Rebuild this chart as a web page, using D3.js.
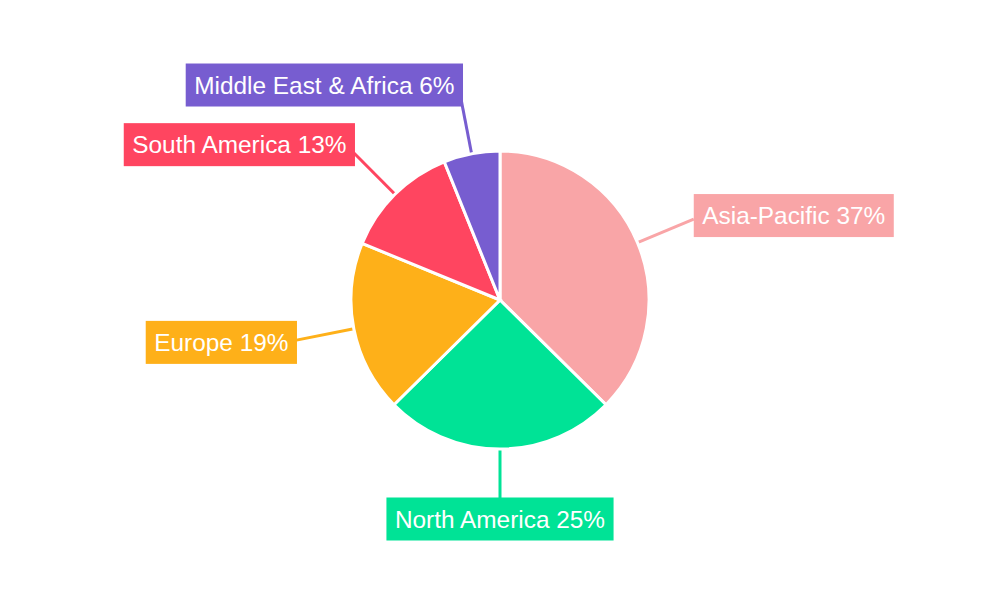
<!DOCTYPE html>
<html>
<head>
  <meta charset="utf-8">
  <script src="https://d3js.org/d3.v7.min.js"></script>
  <style>
    body { margin: 0; background: #fff; }
    text { font-family: "Liberation Sans", Arial, sans-serif; }
  </style>
</head>
<body>
<div id="vis"></div>
<script>
  // data (share of total, %)
  var regions = ["Asia-Pacific", "North America", "Europe", "South America", "Middle East & Africa"];
  var shares = [37.4, 25.2, 18.6, 12.7, 6.1];
  var colors = ["#F9A5A7", "#00E396", "#FEB019", "#FF4560", "#775DD0"];

  var width = 1000, height = 600;
  var cx = 500, cy = 300;
  var radius = 149, labelRadius = 210;

  var data = regions.map(function(r, i) { return { region: r, value: shares[i], color: colors[i] }; });
  var total = d3.sum(shares);

  var svg = d3.select("#vis").append("svg")
    .attr("width", width)
    .attr("height", height)
    .append("g")
    .attr("transform", "translate(" + cx + "," + cy + ")");

  var pie = d3.pie().sort(null).value(function(d) { return d.value; });
  var arcs = pie(data);
  var arc = d3.arc().innerRadius(0).outerRadius(radius);

  function midAngle(d) { return (d.startAngle + d.endAngle) / 2; }
  function pt(a, r) { return [Math.sin(a) * r, -Math.cos(a) * r]; }

  // leader lines
  svg.append("g").selectAll("line")
    .data(arcs)
    .enter()
    .append("line")
      .attr("x1", function(d) { return pt(midAngle(d), radius)[0]; })
      .attr("y1", function(d) { return pt(midAngle(d), radius)[1]; })
      .attr("x2", function(d) { return pt(midAngle(d), labelRadius)[0]; })
      .attr("y2", function(d) { return pt(midAngle(d), labelRadius)[1]; })
      .attr("stroke", function(d) { return d.data.color; })
      .attr("stroke-width", 3);

  // slices
  svg.append("g").selectAll("path")
    .data(arcs)
    .enter()
    .append("path")
      .attr("d", arc)
      .attr("fill", function(d) { return d.data.color; })
      .attr("stroke", "#fff")
      .attr("stroke-width", 3);

  // labels in boxes
  var padX = 8.5, boxH = 43;
  var labels = svg.append("g").selectAll("g")
    .data(arcs)
    .enter()
    .append("g");

  labels.each(function(d) {
    var g = d3.select(this);
    var a = midAngle(d);
    var p = pt(a, labelRadius);
    var txt = g.append("text")
      .text(d.data.region + " " + Math.round(d.data.value / total * 100) + "%")
      .attr("fill", "#fff")
      .style("font-size", "24.4px")
      .attr("dy", "0.35em");
    var tw = txt.node().getComputedTextLength();
    var bw = tw + padX * 2;
    var s = Math.sin(a);
    var left;
    if (s > 0.05) left = p[0];
    else if (s < -0.05) left = p[0] - bw + 3;
    else left = p[0] - bw / 2;
    var midY = p[1] - Math.cos(a) * 9;
    g.insert("rect", "text")
      .attr("x", left)
      .attr("y", midY - boxH / 2)
      .attr("width", bw)
      .attr("height", boxH)
      .attr("fill", d.data.color);
    txt.attr("x", left + padX).attr("y", midY);
  });
</script>
</body>
</html>
